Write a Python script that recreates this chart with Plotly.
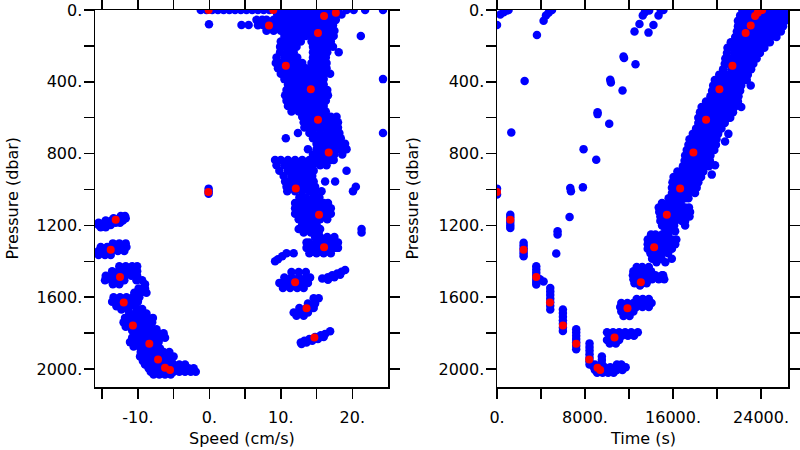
import plotly.graph_objects as go

# ---------------- red points: bin means (pressure, speed, time) ----------------
mean_pressure = [0, 0, 15, 33, 87, 128, 310, 441, 612, 794, 994, 1140, 1322, 1517, 1661, 1824,
                 1014, 1168, 1335, 1487, 1630, 1757, 1859, 1947, 1993, 2006]
mean_speed = [-0.1, 8.95, 17.7, 16.05, 8.35, 15.2, 10.7, 14.2, 15.2, 16.7, 12.1, 15.35, 16.05, 12.0, 13.6, 14.7,
              -0.14, -13.1, -13.8, -12.5, -11.98, -10.7, -8.4, -7.18, -6.2, -5.5]
mean_time = [24100, 23900, 23700, 23455, 23060, 22600, 21400, 20215, 19005, 17850, 16645, 15435, 14280, 13075, 11860, 10680,
             0, 1208, 2415, 3570, 4813, 5993, 7200, 8380, 9135, 9380]

# ---------------- blue points, left panel: rows of (pressure, [speeds]) ----------------
speed_rows = [
    (0, [-1.2, -0.4, 0.4, 1.2, 2.0, 2.8, 3.6, 4.4, 5.2, 6.0, 6.8, 7.6, 8.4, 9.2, 10.0, 11.0, 12.0, 13.0, 14.0, 15.0, 16.0, 17.0, 18.0, 19.2, 20.2, 21.8, 24.3]),
    (25, [9.5, 10.5, 11.5, 12.5, 13.5, 14.5, 15.5, 16.5, 17.5, 18.5]),
    (55, [6.6, 7.4, 8.0, 9.0, 10.0, 11.0, 12.0, 13.0, 14.0, 15.0, 16.0, 17.0, 17.7]),
    (85, [6.8, 7.6, 8.5, 9.5, 10.5, 11.5, 12.5, 13.5, 14.5, 15.5, 16.5, 17.3]),
    (115, [8.0, 9.0, 10.0, 11.0, 12.0, 13.0, 14.0, 15.0, 16.0, 17.0, 17.5]),
    (145, [10.5, 11.5, 12.5, 13.5, 14.5, 15.5, 16.5, 17.4, 21.2]),
    (175, [10.0, 11.0, 12.0, 12.8, 14.3, 15.0, 16.0, 17.0]),
    (205, [9.9, 10.5, 11.5, 12.2, 14.5, 15.5, 16.5, 17.3]),
    (235, [9.9, 11.0, 11.8, 14.5, 15.0, 16.0, 16.5, 18.1]),
    (265, [9.4, 10.5, 11.5, 12.3, 14.5, 15.5, 16.3]),
    (295, [9.3, 10.0, 11.0, 12.0, 13.0, 14.3, 15.0, 16.0, 16.4]),
    (325, [9.6, 10.5, 11.5, 12.5, 13.5, 14.5, 15.5, 16.4]),
    (355, [10.0, 11.0, 12.0, 13.0, 14.0, 15.0, 16.0, 16.9]),
    (385, [10.5, 11.5, 12.5, 13.5, 14.5, 15.5, 16.0, 24.3]),
    (415, [11.0, 12.0, 13.0, 14.0, 15.0, 16.0]),
    (445, [10.8, 11.5, 12.5, 13.5, 14.5, 15.5, 16.5]),
    (475, [10.6, 11.0, 12.0, 13.0, 14.0, 15.0, 16.0, 16.6]),
    (505, [10.8, 11.5, 12.5, 13.5, 14.5, 15.5, 16.3]),
    (535, [11.0, 12.0, 13.0, 14.0, 15.0, 16.0]),
    (565, [11.5, 12.5, 13.5, 14.5, 15.5, 16.3]),
    (595, [13.0, 14.0, 15.0, 16.0, 17.0, 17.8]),
    (625, [13.2, 13.5, 14.5, 15.5, 16.5, 17.5, 18.0]),
    (655, [13.3, 14.0, 15.0, 16.0, 17.0, 18.0]),
    (685, [12.4, 14.0, 14.5, 15.5, 16.5, 17.5, 18.2, 24.3]),
    (715, [10.7, 14.5, 15.0, 16.0, 17.0, 18.0, 18.4]),
    (745, [15.0, 15.5, 16.5, 17.5, 18.5, 19.0]),
    (775, [13.8, 15.0, 16.0, 17.0, 18.0, 19.0, 19.2]),
    (805, [14.5, 15.5, 16.5, 17.5, 18.6]),
    (835, [9.2, 10.0, 11.0, 12.0, 13.0, 14.0, 15.0, 16.0, 17.0, 17.4]),
    (865, [9.4, 10.5, 11.5, 12.5, 13.5, 14.5, 15.5, 16.4]),
    (895, [9.8, 11.0, 12.0, 13.0, 14.0, 14.6, 19.2]),
    (925, [10.4, 11.5, 12.5, 13.5, 14.4]),
    (955, [10.6, 11.0, 12.0, 13.0, 14.0, 14.6, 16.2, 17.6]),
    (985, [10.8, 11.5, 12.5, 13.5, 14.5, 14.8, 20.5]),
    (1010, [-0.1, 10.9, 12.0, 13.0, 14.0, 14.8, 15.7, 20.1]),
    (1045, [12.6, 13.5, 14.5, 15.4]),
    (1075, [12.0, 13.0, 14.0, 15.0, 16.0, 16.6]),
    (1105, [12.0, 12.5, 13.5, 14.5, 15.5, 16.5, 17.0]),
    (1135, [12.0, 13.0, 14.0, 15.0, 16.0, 17.0]),
    (1165, [12.5, 13.5, 14.5, 15.5, 16.5]),
    (1195, [13.0, 14.0, 15.0]),
    (1220, [12.5, 13.5, 14.5, 15.5, 21.3]),
    (1240, [13.2, 14.2, 15.3, 21.3]),
    (1265, [14.8, 15.5, 16.5, 17.5]),
    (1295, [13.6, 14.0, 15.0, 16.0, 17.0, 18.0]),
    (1325, [13.6, 14.5, 15.5, 16.5, 17.5, 18.0]),
    (1355, [10.8, 11.8, 14.0, 15.0, 16.0, 17.0]),
    (1372, [10.2]), (1388, [9.6]), (1400, [9.2]),
    (1448, [19.0]), (1458, [18.5]), (1468, [17.9]), (1475, [18.3]), (1478, [17.2]),
    (1488, [16.6, 17.5]), (1496, [15.8]), (1502, [16.6]),
    (1460, [11.5, 12.5, 13.5]),
    (1490, [10.5, 11.5, 12.5, 13.5, 14.1]),
    (1520, [9.8, 10.8, 11.8, 12.8, 13.8]),
    (1548, [10.3, 11.3, 12.3, 13.2]),
    (1605, [14.6, 15.3]), (1635, [13.8, 14.8]), (1660, [12.6, 13.6, 14.6]),
    (1685, [11.8, 12.8, 13.8]), (1703, [12.2, 13.2]),
    (1790, [16.9]), (1805, [16.2]), (1812, [15.6]), (1822, [16.0, 14.8]),
    (1832, [15.2, 14.0]), (1842, [14.4, 13.3]), (1852, [13.6, 12.8]), (1860, [12.9]),
    # descending profile (negative speeds)
    (1148, [-12.4, -11.8]), (1160, [-13.4, -12.6, -11.7]), (1172, [-14.5, -13.7, -12.9, -12.1]),
    (1185, [-15.5, -14.7, -13.9, -13.1, -12.5]), (1198, [-15.5, -14.6, -13.8]), (1210, [-15.2, -14.5]),
    (1300, [-13.5, -12.6, -11.7]), (1320, [-15.2, -14.3, -13.4, -12.5, -11.6]),
    (1342, [-15.5, -14.6, -13.7, -12.8, -11.9]), (1365, [-15.5, -14.6, -13.8]),
    (1428, [-12.6, -11.7, -10.8, -10.1]), (1455, [-13.6, -12.7, -11.8, -10.9, -10.1]),
    (1480, [-14.5, -13.6, -12.7, -11.8, -10.9, -10.1]), (1505, [-14.6, -13.7, -12.8, -11.9, -10.2, -9.4]),
    (1528, [-13.5, -12.6, -9.0]),
    (1552, [-9.9, -9.0]), (1575, [-10.5, -9.6, -8.8]), (1600, [-13.4, -12.5, -11.6, -10.7, -9.8]),
    (1625, [-13.6, -12.7, -11.8, -10.9, -10.0]), (1650, [-13.0, -12.1, -11.2, -10.3]), (1668, [-12.3, -11.4]),
    (1665, [-10.2, -9.4]), (1690, [-11.2, -10.4, -9.6, -8.8]), (1715, [-11.8, -11.0, -10.2, -9.4, -8.6, -7.9]),
    (1740, [-12.0, -11.2, -10.4, -9.6, -8.8, -8.0]), (1765, [-11.7, -10.9, -10.1, -9.3, -8.5]),
    (1785, [-10.8, -10.0, -9.2]),
    (1778, [-9.8, -9.0, -8.2, -7.4]), (1800, [-10.4, -9.6, -8.8, -8.0, -7.2, -6.4]),
    (1825, [-10.8, -10.0, -9.2, -8.4, -7.6, -6.8, -6.2]), (1850, [-11.1, -10.3, -9.5, -8.7, -7.9, -7.1]),
    (1875, [-10.6, -9.8, -9.0, -8.2, -7.4]),
    (1885, [-8.5, -7.7, -6.9]), (1905, [-9.6, -8.8, -8.0, -7.2, -6.4, -5.6]),
    (1930, [-9.7, -8.9, -8.1, -7.3, -6.5, -5.7, -5.0]), (1955, [-9.3, -8.5, -7.7, -6.9, -6.1, -5.3]),
    (1975, [-9.0, -8.2, -7.4, -6.6, -5.8, -5.0, -4.2, -3.4]),
    (1995, [-8.5, -7.7, -6.9, -6.1, -5.3, -4.5, -3.7, -2.9, -2.2]),
    (2015, [-8.2, -7.4, -6.6, -5.8, -5.0, -4.2, -3.4, -2.6, -1.9]),
    (2030, [-7.8, -7.0, -6.2, -5.4]),
    # isolated near-zero and near-surface points
    (80, [-0.05]), (83, [4.5, 5.5]), (995, [-0.1]), (1023, [-0.1]),
]

# ---------------- blue points, right panel: rows of (pressure, [times]) ----------------
time_rows = [
    (0, [22300, 22800, 23400, 24000, 24600, 25200, 25800, 26400, 1050, 5000, 15130]),
    (30, [22100, 22500, 23100, 23700, 24300, 24900, 25500, 26100, 26400, 13250, 14680, 4450]),
    (60, [21900, 22200, 22800, 23400, 24000, 24600, 25200, 25800, 26200, 4235]),
    (90, [21900, 22500, 23100, 23700, 24300, 24900, 25500, 26000]),
    (120, [21800, 22200, 22800, 23400, 24000, 24600, 25200, 25800, 12500]),
    (150, [21650, 21900, 22500, 23100, 23700, 24300, 24900, 25400]),
    (180, [21250, 21600, 22200, 22800, 23400, 24000, 24600, 24800]),
    (210, [20950, 21300, 21900, 22500, 23100, 23700, 24300]),
    (240, [20900, 21600, 22200, 22800, 23400, 23900]),
    (270, [20750, 21300, 21900, 22500, 23100, 23600]),
    (300, [20700, 21000, 21600, 22200, 22800, 23300]),
    (330, [20550, 21300, 21900, 22500, 23100]),
    (360, [20200, 20400, 21000, 21600, 22200, 22800]),
    (390, [19800, 20100, 20700, 21300, 21900, 22500, 22700]),
    (420, [19650, 19800, 20400, 21000, 21600, 22200, 23060]),
    (450, [19550, 20100, 20700, 21300, 21900, 22100]),
    (480, [19400, 19800, 20400, 21000, 21600, 21950]),
    (510, [19000, 19500, 20100, 20700, 21300, 21900]),
    (540, [18600, 19200, 19800, 20400, 21000, 21600, 22200]),
    (570, [18450, 18900, 19500, 20100, 20700, 21300, 21450]),
    (600, [18300, 18600, 19200, 19800, 20400, 21000, 21200]),
    (630, [18300, 18900, 19500, 20100, 20700]),
    (660, [18100, 18600, 19200, 19800, 20400]),
    (690, [17800, 18300, 18900, 19500, 20100, 21030]),
    (720, [17500, 18000, 18600, 19200, 19800, 19950]),
    (732, [20730]),
    (750, [17400, 17700, 18300, 18900, 19500, 19900]),
    (780, [17250, 17400, 18000, 18600, 19200, 19750]),
    (810, [17100, 17700, 18300, 18900, 19400]),
    (840, [17050, 17400, 18000, 18600, 19200, 19350]),
    (865, [19820]),
    (870, [16900, 17100, 17700, 18300, 18900, 19250]),
    (900, [16400, 16800, 17400, 18000, 18600, 18750]),
    (917, [19520]),
    (930, [16050, 16500, 17100, 17700, 18300, 18550]),
    (960, [15950, 16200, 16800, 17400, 18000, 18300]),
    (990, [15900, 16500, 17100, 17700, 18150]),
    (1020, [15900, 16200, 16800, 17400, 18000]),
    (1048, [15600, 15900, 16500, 17100, 17400]),
    (1075, [15000, 15600, 16200, 16700]),
    (1100, [14700, 15300, 15900, 16500, 17100, 17450]),
    (1125, [14750, 15000, 15600, 16200, 16800, 17400, 17550]),
    (1150, [14850, 15300, 15900, 16500, 17100, 17500]),
    (1175, [14850, 15000, 15600, 16200, 16800, 17100]),
    (1200, [15000, 15300, 15900, 16100, 17100]),
    (1222, [15300, 15900]),
    (1233, [16190]),
    (1251, [14000, 14400, 15000, 15550]),
    (1279, [13700, 14100, 14700, 15300, 15900, 16300]),
    (1305, [13700, 14400, 15000, 15600, 16200]),
    (1330, [13700, 14100, 14700, 15300, 15900]),
    (1355, [13950, 14400, 15000, 15550]),
    (1385, [14100, 14700, 14950, 15890]),
    (1405, [14500, 15300]),
    (1432, [12700, 13200, 13800]),
    (1455, [12400, 12900, 13500, 14000]),
    (1478, [12350, 12600, 13200, 13800, 14400, 15000, 15100]),
    (1500, [12400, 12900, 13500, 14100, 14700, 15200, 3900]),
    (1512, [4235]),
    (1522, [12500, 13200, 13600]),
    (1535, [13000]),
    (1610, [12700, 13250, 13800]),
    (1632, [11300, 11850, 12400, 12950, 13500, 14050]),
    (1655, [11200, 11575, 12125, 12675, 13225, 13800]),
    (1680, [11300, 11850, 12400]),
    (1705, [11500, 12050]),
    (1795, [10000, 10550, 11100, 11650, 12200, 12800]),
    (1815, [10250, 10800, 11350, 11900, 12450]),
    (1838, [10000, 10550, 11100]),
    (1858, [10250, 10800]),
    (1930, [9530]), (1950, [9530]), (1970, [9530]),
    (1975, [8900, 10900, 11300]),
    (1990, [8800, 9300, 9800, 10300, 10800, 11300, 11700]),
    (2005, [8900, 9400, 9900, 10400, 10900, 11400]),
    (2020, [9100, 9600, 10100, 10600]),
    # isolated points between the profiles
    (83, [0, 14220]), (25, [300]), (12, [600, 13440]), (3, [900, 13830, 14890]),
    (139, [3631]), (15, [4690]), (395, [2511]), (682, [1300]),
    (991, [6658]), (1010, [6720]), (988, [7808]), (1153, [6598]),
    (775, [7869]), (834, [9020]), (569, [9140]), (580, [9140]), (634, [10200]),
    (389, [10290]), (404, [10350]), (448, [11410]), (259, [11500]), (268, [11550]),
    (302, [12590]), (78, [12950]), (126, [13770]),
    (1233, [5506]), (1251, [5506]), (1357, [5386]),
]

# descending profile (right panel): columns of (time, [pressures])
time_cols = [
    (0, [995, 1028]),
    (1208, [1140, 1155, 1170, 1185, 1200, 1214]),
    (2419, [1297, 1312, 1327, 1342, 1357, 1372]),
    (3569, [1427, 1445, 1463, 1481, 1499, 1515, 1529]),
    (4840, [1548, 1568, 1588, 1608, 1628, 1648, 1668]),
    (5990, [1668, 1688, 1708, 1728, 1748, 1768, 1788]),
    (7200, [1779, 1797, 1815, 1833, 1851, 1870, 1890]),
    (8410, [1857, 1877, 1897, 1917, 1937, 1957, 1974]),
]

# tick labels
y_tickvals = [0, 200, 400, 600, 800, 1000, 1200, 1400, 1600, 1800, 2000]
y_ticktext = ["0.", "", "400.", "", "800.", "", "1200.", "", "1600.", "", "2000."]
speed_tickvals = [-15, -10, -5, 0, 5, 10, 15, 20]
speed_ticktext = ["", "-10.", "", "0.", "", "10.", "", "20."]
time_tickvals = [0, 4000, 8000, 12000, 16000, 20000, 24000]
time_ticktext = ["0.", "", "8000.", "", "16000.", "", "24000."]

# ---------------- expand rows into point lists ----------------
sp_x, sp_y = [], []
for p, vals in speed_rows:
    for v in vals:
        sp_x.append(v)
        sp_y.append(p)

tm_x, tm_y = [], []
for p, vals in time_rows:
    for v in vals:
        tm_x.append(v)
        tm_y.append(p)
for t, ps in time_cols:
    for p in ps:
        tm_x.append(t)
        tm_y.append(p)

BLUE = "#0000ff"
RED = "#ff0000"
FONT = "DejaVu Sans"

fig = go.Figure()
fig.add_trace(go.Scatter(x=sp_x, y=sp_y, mode="markers", xaxis="x", yaxis="y",
                         marker=dict(color=BLUE, size=8.5, line=dict(width=0)), hoverinfo="skip"))
fig.add_trace(go.Scatter(x=mean_speed, y=mean_pressure, mode="markers", xaxis="x", yaxis="y",
                         marker=dict(color=RED, size=8, line=dict(width=0)), hoverinfo="skip"))
fig.add_trace(go.Scatter(x=tm_x, y=tm_y, mode="markers", xaxis="x2", yaxis="y2",
                         marker=dict(color=BLUE, size=8.5, line=dict(width=0)), hoverinfo="skip"))
fig.add_trace(go.Scatter(x=mean_time, y=mean_pressure, mode="markers", xaxis="x2", yaxis="y2",
                         marker=dict(color=RED, size=8, line=dict(width=0)), hoverinfo="skip"))

axis_common = dict(showgrid=False, zeroline=False, showline=True, linecolor="black", linewidth=1.5,
                   mirror="allticks", ticks="outside", ticklen=10, tickwidth=1.5, tickcolor="black",
                   tickfont=dict(family=FONT, size=16, color="black"), tickmode="array",
                   automargin=False)

ydom = [1 - 387 / 450, 1 - 10 / 450]
fig.update_layout(
    width=800, height=450,
    margin=dict(l=0, r=0, t=0, b=0),
    paper_bgcolor="white", plot_bgcolor="white",
    showlegend=False,
    font=dict(family=FONT, size=16, color="black"),
    xaxis=dict(domain=[95 / 800, 388 / 800], range=[-16, 25], anchor="y",
               tickvals=speed_tickvals, ticktext=speed_ticktext, ticklabelstandoff=5, **axis_common),
    yaxis=dict(domain=ydom, range=[2100, 0], anchor="x",
               tickvals=y_tickvals, ticktext=y_ticktext, ticklabelstandoff=-2, **axis_common),
    xaxis2=dict(domain=[497 / 800, 788 / 800], range=[0, 26450], anchor="y2",
                tickvals=time_tickvals, ticktext=time_ticktext, ticklabelstandoff=5, **axis_common),
    yaxis2=dict(domain=ydom, range=[2100, 0], anchor="x2",
                tickvals=y_tickvals, ticktext=y_ticktext, ticklabelstandoff=-2, **axis_common),
    annotations=[
        dict(text="Speed (cm/s)", x=241.5 / 800, y=1 - 438 / 450, xref="paper", yref="paper",
             showarrow=False, xanchor="center", yanchor="middle", font=dict(family=FONT, size=16)),
        dict(text="Time (s)", x=642.5 / 800, y=1 - 438 / 450, xref="paper", yref="paper",
             showarrow=False, xanchor="center", yanchor="middle", font=dict(family=FONT, size=16)),
        dict(text="Pressure (dbar)", x=12 / 800, y=1 - 198.5 / 450, xref="paper", yref="paper",
             showarrow=False, xanchor="center", yanchor="middle", textangle=-90,
             font=dict(family=FONT, size=16)),
        dict(text="Pressure (dbar)", x=412 / 800, y=1 - 198.5 / 450, xref="paper", yref="paper",
             showarrow=False, xanchor="center", yanchor="middle", textangle=-90,
             font=dict(family=FONT, size=16)),
    ],
)

fig.write_html("out.html", config={"displayModeBar": False, "staticPlot": True},
               post_script="document.body.style.margin='0px';")
